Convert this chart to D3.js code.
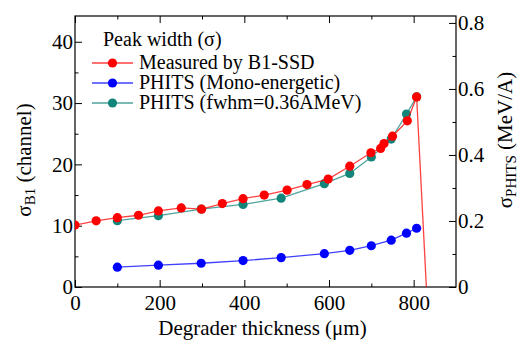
<!DOCTYPE html>
<html>
<head>
<meta charset="utf-8">
<script src="https://cdn.jsdelivr.net/npm/d3@7"></script>
</head>
<body style="margin:0">
<svg id="svg" width="520" height="341"></svg>
<script>
// DATA //

// Measured by B1-SSD (channel, left axis)
const measuredX = [0, 50, 100, 150, 197, 251, 299, 348, 397, 447, 501, 548, 598, 649, 699, 722, 730, 750, 785, 807];
const measuredY = [10.1, 10.8, 11.3, 11.7, 12.4, 12.9, 12.7, 13.6, 14.4, 15.0, 15.8, 16.7, 17.6, 19.7, 21.9, 22.6, 23.4, 24.6, 27.1, 31.0];
// drop-off of measured curve after the last point (no marker)
const measuredTailX = [807, 830];
const measuredTailY = [31.0, 0];

// PHITS mono-energetic (MeV/A, right axis)
const monoX = [100, 197, 298, 397, 487, 589, 649, 700, 747, 783, 807];
const monoY = [0.060, 0.066, 0.072, 0.080, 0.089, 0.101, 0.111, 0.125, 0.142, 0.163, 0.178];

// PHITS fwhm=0.36AMeV (MeV/A, right axis)
const fwhmX = [100, 197, 298, 397, 487, 589, 649, 700, 747, 783, 807];
const fwhmY = [0.201, 0.216, 0.236, 0.250, 0.269, 0.313, 0.344, 0.394, 0.448, 0.524, 0.576];

const xTicks = [0, 200, 400, 600, 800];
const leftTicks = [0, 10, 20, 30, 40];
const rightTicks = [0, 0.2, 0.4, 0.6, 0.8];

const legendLabels = ["Measured by B1-SSD", "PHITS (Mono-energetic)", "PHITS (fwhm=0.36AMeV)"];
const colors = ["#ff0000", "#0000ff", "#12857a"];

// MAIN //

const serif = "'Times New Roman'";
const margin = {top: 16, right: 64, bottom: 54, left: 75};
const width = 520 - margin.left - margin.right;
const height = 341 - margin.top - margin.bottom;

const svg = d3.select("#svg");
const g = svg.append("g")
  .attr("transform", "translate(" + margin.left + "," + margin.top + ")");

let x = d3.scaleLinear().domain([0, 900]).range([0, width]);
let yL = d3.scaleLinear().domain([0, 44.2]).range([height, 0]);
let yR = d3.scaleLinear().domain([0, 0.821]).range([height, 0]);

svg.append("defs").append("clipPath").attr("id", "clip")
  .append("rect").attr("width", width).attr("height", height);

// font helper
function font(sel, size) {
  sel.style("font-family", serif)
    .style("font-size", size + "px");
}

// Axes with inward ticks
function styleAxis(sel) {
  sel.attr("font-family", null).attr("font-size", null);
  sel.select(".domain").remove();
  sel.selectAll("text").call(font, 21).attr("fill", "#000");
  sel.selectAll("line").attr("stroke", "#000").attr("stroke-width", 1);
}

// minor ticks
g.append("g").attr("transform", `translate(0,${height})`)
  .call(d3.axisBottom(x).tickValues(d3.range(100, 900, 200)).tickSize(-3.5).tickFormat(""))
  .call(styleAxis);
g.append("g")
  .call(d3.axisTop(x).tickValues(d3.range(100, 900, 200)).tickSize(-3.5).tickFormat(""))
  .call(styleAxis);
g.append("g")
  .call(d3.axisLeft(yL).tickValues([5, 15, 25, 35]).tickSize(-3.5).tickFormat(""))
  .call(styleAxis);
g.append("g").attr("transform", `translate(${width},0)`)
  .call(d3.axisRight(yR).tickValues([0.1, 0.3, 0.5, 0.7]).tickSize(-3.5).tickFormat(""))
  .call(styleAxis);

// major ticks
g.append("g").attr("transform", `translate(0,${height})`)
  .call(d3.axisBottom(x).tickValues(xTicks).tickSize(-7).tickPadding(8).tickFormat(d3.format("d")))
  .call(styleAxis);
g.append("g")
  .call(d3.axisTop(x).tickValues(xTicks).tickSize(-7).tickFormat(""))
  .call(styleAxis);
g.append("g")
  .call(d3.axisLeft(yL).tickValues(leftTicks).tickSize(-7).tickPadding(2).tickFormat(d3.format("d")))
  .call(styleAxis);
g.append("g").attr("transform", `translate(${width},0)`)
  .call(d3.axisRight(yR).tickValues(rightTicks).tickSize(-7).tickPadding(2)
    .tickFormat(d => d === 0 ? "0" : d3.format(".1f")(d)))
  .call(styleAxis);

// frame
g.append("rect")
  .attr("width", width).attr("height", height)
  .attr("fill", "none").attr("stroke", "#000").attr("stroke-width", 1.2);

// series
const plot = g.append("g").attr("clip-path", "url(#clip)");

function drawSeries(xs, ys, yScale, color, markers) {
  const pts = xs.map((v, i) => [x(v), yScale(ys[i])]);
  plot.append("path")
    .attr("d", d3.line()(pts))
    .attr("fill", "none")
    .attr("stroke", color)
    .attr("stroke-opacity", 0.75)
    .attr("stroke-width", 1.3);
  if (markers) {
    plot.selectAll(null).data(pts).enter().append("circle")
      .attr("cx", d => d[0]).attr("cy", d => d[1])
      .attr("r", 4.6).attr("fill", color);
  }
}

drawSeries(measuredTailX, measuredTailY, yL, colors[0], false);
drawSeries(monoX, monoY, yR, colors[1], true);
drawSeries(fwhmX, fwhmY, yR, colors[2], true);
drawSeries(measuredX, measuredY, yL, colors[0], true);

// legend
const legend = g.append("g").attr("transform", "translate(17,0)");
legend.append("text")
  .attr("x", 11).attr("y", 30)
  .call(font, 20)
  .text("Peak width (σ)");

legendLabels.forEach((label, i) => {
  const ly = 47 + i * 20;
  legend.append("line")
    .attr("x1", 0).attr("x2", 41).attr("y1", ly).attr("y2", ly)
    .attr("stroke", colors[i]).attr("stroke-opacity", 0.75).attr("stroke-width", 1.3);
  legend.append("circle")
    .attr("cx", 20.5).attr("cy", ly).attr("r", 4.6).attr("fill", colors[i]);
  legend.append("text")
    .attr("x", 47).attr("y", ly + 6)
    .call(font, 20)
    .text(label);
});

// axis titles
svg.append("text")
  .attr("x", margin.left + width / 2 - 3).attr("y", 335)
  .attr("text-anchor", "middle")
  .call(font, 21)
  .text("Degrader thickness (μm)");

const lt = svg.append("text")
  .attr("transform", "translate(31,160) rotate(-90)")
  .attr("text-anchor", "middle")
  .call(font, 21);
lt.append("tspan").text("σ");
lt.append("tspan").attr("dy", 4).style("font-size", "15px").text("B1");
lt.append("tspan").attr("dy", -4).text(" (channel)");

const rt = svg.append("text")
  .attr("transform", "translate(512,140) rotate(-90)")
  .attr("text-anchor", "middle")
  .call(font, 21);
rt.append("tspan").text("σ");
rt.append("tspan").attr("dy", 4).style("font-size", "15px").text("PHITS");
rt.append("tspan").attr("dy", -4).text(" (MeV/A)");
</script>
</body>
</html>
